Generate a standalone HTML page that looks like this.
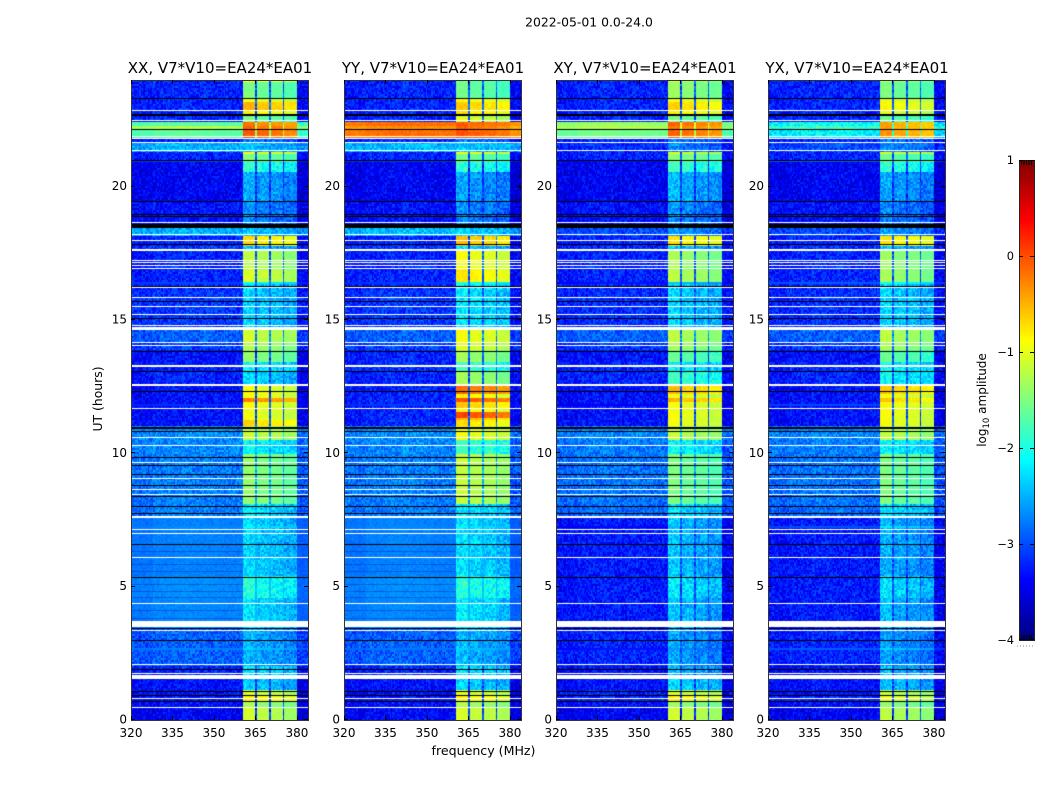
<!DOCTYPE html>
<html lang="en">
<head>
<meta charset="utf-8">
<title>2022-05-01 0.0-24.0</title>
<style>
html,body{margin:0;padding:0;background:#fff;}
#figure{position:relative;width:1050px;height:800px;overflow:hidden;background:#fff;font-family:"DejaVu Sans","Liberation Sans",sans-serif;color:#000;}
#figure canvas{position:absolute;display:block;}
#overlay{position:absolute;left:0;top:0;}
text{font-family:"DejaVu Sans","Liberation Sans",sans-serif;fill:#000;}
</style>
</head>
<body>
<div id="figure">
<canvas id="heat-0" width="177" height="640" style="left:131px;top:80px"></canvas>
<canvas id="heat-1" width="177" height="640" style="left:344px;top:80px"></canvas>
<canvas id="heat-2" width="177" height="640" style="left:556px;top:80px"></canvas>
<canvas id="heat-3" width="177" height="640" style="left:768px;top:80px"></canvas>
<canvas id="colorbar" width="15" height="480" style="left:1019px;top:160px"></canvas>
<svg id="overlay" width="1050" height="800" viewBox="0 0 1050 800" xmlns="http://www.w3.org/2000/svg">
<text x="589" y="26.5" text-anchor="middle" font-size="12.4">2022-05-01 0.0-24.0</text>
<text x="220" y="73" text-anchor="middle" font-size="15">XX, V7*V10=EA24*EA01</text>
<text x="433" y="73" text-anchor="middle" font-size="15">YY, V7*V10=EA24*EA01</text>
<text x="645" y="73" text-anchor="middle" font-size="15">XY, V7*V10=EA24*EA01</text>
<text x="857" y="73" text-anchor="middle" font-size="15">YX, V7*V10=EA24*EA01</text>
<text x="483.5" y="755" text-anchor="middle" font-size="12.6">frequency (MHz)</text>
<text transform="translate(102,399) rotate(-90)" text-anchor="middle" font-size="12.4">UT (hours)</text>
<text transform="translate(986,400) rotate(-90)" text-anchor="middle" font-size="12">log<tspan font-size="8.5" dy="3">10</tspan><tspan dy="-3"> amplitude</tspan></text>
</svg>
</div>
<script>
// Categories
const panelNames = ['xx', 'yy', 'xy', 'yx'];
const panelLeftEdges = [131, 344, 556, 768];

// Axis tick labels
const freqTicks = [320, 335, 350, 365, 380];
const utTicks = [0, 5, 10, 15, 20];
const colorTicks = [1, 0, -1, -2, -3, -4];

// UT start (hours) of each time block
const blockStartUT = [0,.45,.71,.9,1.09,1.54,2.06,3.45,4.61,5.4,7.65,8.1,10.01,10.5,10.99,11.06,11.25,11.33,11.55,11.7,11.93,12.08,12.26,12.53,13.05,13.39,13.84,14.18,14.63,16.16,16.46,16.88,17.59,17.81,18.15,18.45,18.94,19.43,20.55,20.93,21.19,21.3,21.64,21.79,22.09,22.24,22.31,22.46,22.65,22.84,23.14,23.29,23.93];

// log10 amplitude off the active subbands, per block
const backgroundXX = [-3.45,-3.35,-3.35,-3.35,-3.35,-3.25,-2.95,-2.75,-2.72,-2.78,-2.8,-2.8,-2.75,-2.72,-3.35,-3.35,-3.35,-3.35,-3.35,-3.35,-3.35,-3.35,-3.35,-3.25,-3.3,-3.35,-3.1,-2.95,-3.15,-3.25,-3.25,-3.25,-3.15,-3.25,-2.55,-3.35,-3.35,-3.45,-3.45,-3.25,-3.25,-2.55,-3.25,-1.7,-1.3,-3,-1.7,-3.25,-3.25,-3.25,-3.25,-3.25,-3.25];
const backgroundYY = [-3.4,-3.35,-3.35,-3.35,-3.35,-3.25,-2.95,-2.75,-2.72,-2.78,-2.8,-2.8,-2.75,-2.72,-3.25,-3.25,-3.25,-3.25,-3.25,-3.25,-3.25,-3.25,-3.25,-3.25,-3.2,-3.25,-3.1,-2.95,-3.15,-3.25,-3.25,-3.25,-3.15,-3.25,-2.5,-3.35,-3.35,-3.45,-3.45,-3.25,-3.25,-2.5,-3.25,-.2,-.35,-2.2,-.2,-3.25,-3.25,-3.25,-3.25,-3.25,-3.25];
const backgroundXY = [-3.45,-3.35,-3.25,-3.25,-3.35,-3.35,-3.25,-3.3,-3.3,-3.3,-2.9,-2.85,-2.8,-2.75,-3.35,-3.35,-3.35,-3.35,-3.35,-3.35,-3.35,-3.35,-3.35,-3.25,-3.25,-3.35,-3.15,-2.95,-3.2,-3.25,-3.25,-3.25,-3.2,-3.25,-3.05,-3.35,-3.35,-3.45,-3.45,-3.25,-3.25,-3.2,-3.25,-1.6,-1.3,-3,-1.4,-3.25,-3.25,-3.25,-3.25,-3.25,-3.25];
const backgroundYX = [-3.45,-3.35,-3.25,-3.35,-3.35,-3.35,-3.25,-3.3,-3.3,-3.3,-2.9,-2.85,-2.8,-2.75,-3.35,-3.35,-3.35,-3.35,-3.35,-3.35,-3.35,-3.35,-3.35,-3.25,-3.25,-3.35,-3.15,-2.95,-3.2,-3.25,-3.25,-3.25,-3.2,-3.25,-3.05,-3.35,-3.35,-3.45,-3.45,-3.25,-3.25,-3.05,-3.25,-2.2,-1.9,-3,-2.1,-3.25,-3.25,-3.25,-3.25,-3.25,-3.25];

// log10 amplitude inside the active subbands, per block
const subbandXX = [-1.2,-1.4,-.9,-1.15,-2.45,-2.3,-2.6,-2.35,-2.05,-2.4,-2.3,-1.5,-2.2,-1.2,-1.05,-.75,-1,-1.05,-1,-1,-.35,-1,-1,-2.4,-2.2,-1.5,-1.35,-1.2,-2.4,-2.35,-1.15,-1.3,-2.5,-.8,-2.5,-2.8,-2.75,-2.6,-2,-1.6,-1,-2.55,-2.85,-.15,-.2,-.7,-.3,-1.6,-.9,-.6,-1.05,-1.6,-1];
const subbandYY = [-1.15,-1.35,-.9,-1.1,-2.4,-2.3,-2.55,-2.3,-2,-2.35,-2.3,-1.25,-1.9,-1,-.95,-.8,-.6,-.05,-.9,-.7,-.1,-.9,-.25,-1.4,-1.9,-1.4,-1.1,-1,-2.3,-2.2,-.85,-1,-2.4,-.65,-2.4,-2.8,-2.75,-2.65,-2,-1.65,-1,-2.45,-2.85,-.1,-.2,-.5,-.15,-1.15,-.8,-.7,-.95,-1.65,-1.7];
const subbandXY = [-1.2,-1.45,-.9,-1.15,-2.4,-2.55,-2.65,-2.5,-2.3,-2.5,-2.35,-1.6,-2.2,-1.25,-1.1,-1,-1.05,-1,-1,-1,-.6,-1.05,-.65,-1.9,-2.2,-1.7,-1.4,-1.3,-2.4,-2.4,-1.3,-1.4,-2.5,-.85,-2.7,-2.8,-2.75,-2.55,-1.9,-1.55,-1.1,-2.8,-2.85,-.2,-.3,-.6,-.2,-1.6,-.9,-.75,-1.05,-1.45,-1.3];
const subbandYX = [-1.3,-1.5,-1.1,-1.25,-2.5,-2.55,-2.7,-2.55,-2.35,-2.6,-2.35,-1.6,-2.2,-1.25,-1.1,-1,-1.05,-1,-1,-1,-.7,-1.05,-.7,-2.2,-2.2,-1.7,-1.4,-1.3,-2.4,-2.4,-1.4,-1.45,-2.55,-.85,-2.7,-2.85,-2.8,-2.65,-2,-1.7,-1.1,-2.8,-2.85,-.45,-.5,-1,-.5,-1.7,-1.1,-.95,-1.1,-1.6,-1.4];

const backgroundByPanel = [backgroundXX, backgroundYY, backgroundXY, backgroundYX];
const subbandByPanel = [subbandXX, subbandYY, subbandXY, subbandYX];

// Active subband limits (MHz) and their relative level
const subbandStartMHz = [360.5, 365.5, 370.5, 375.5];
const subbandEndMHz = [365, 370, 375, 380];
const subbandOffset = [0.1, 0, -0.05, -0.15];

// Coarse bandpass correction, one value per 8 MHz from 320 MHz
const bandpassLog = [-0.03, 0.03, 0.05, 0.04, 0.02, 0, -0.03, -0.15];

// Texture table for pixel-to-pixel scatter (unit amplitude)
const scatterTable = [.4,-.7,.9,-.2,.1,-.9,.6,.3,-.5,1,-.3,.2,-.8,.7,-.1,.5,-.6,.8,-1,.3,0,-.4,.9,-.7,.2,.6,-.2,-.9,.4,.1,-.5,.7,-.3,1,-.8,.2,.5,-.1,-.6,.8,-.4,.3,-.9,.6,.1,-.2,.9,-.7,.4,-.5,.2,.7,-1,.3,-.1,.5,-.8,.6,-.3,.8,-.6];

// Blocks with a very smooth spectrum in XX and YY (3.5 to 7.6 UT)
const quietBlocks = [7, 8, 9];
const quietPanels = [0, 1];

// Fully flagged (white) times
const flaggedLinesUT = [.476,.825,1.76,2.09,3.35,4.38,6.1,7,7.14,8.44,8.65,9.06,9.65,10.28,10.6,11.69,12.54,12.59,13.24,13.31,14.06,14.15,14.81,15.19,15.5,15.85,16.22,16.93,17.06,17.15,17.22,18,18.19,18.67,21.34,21.67,21.81,21.88,22.48,22.86];
const flaggedBlockStartUT = [1.54, 3.49, 7.58, 14.64, 17.58];
const flaggedBlockEndUT = [1.69, 3.71, 7.65, 14.74, 17.65];

// Very low amplitude (black) times
const deadLinesUT = [.71,.92,1.9,3,5.35,6.59,7.75,7.99,8.4,8.78,9.19,9.56,9.86,10.81,12.31,13.06,13.83,15.04,15.69,16.25,17.83,18.87,18.94,19.44,20.98,22.14,23.31];
const deadBlockStartUT = [1.05, 3.41, 10.93, 18.45, 22.65];
const deadBlockEndUT = [1.09, 3.45, 10.98, 18.6, 22.72];

// Faint dips across the lower band of XX and YY
const faintLinesUT = [3.83, 4.13, 4.61, 4.84, 5.1, 5.59, 5.85, 6.34];

const FREQ_MIN = 320, FREQ_MAX = 384, UT_MIN = 0, UT_MAX = 24, COLOR_MIN = -4, COLOR_MAX = 1;
const IMG_W = 177, IMG_H = 640, CHANNELS = 128, ROWS = 320;

function xScale(mhz) { return (mhz - FREQ_MIN) / (FREQ_MAX - FREQ_MIN) * IMG_W; }
function yScale(ut) { return IMG_H - (ut - UT_MIN) / (UT_MAX - UT_MIN) * IMG_H; }
function colorPos(v) { return (COLOR_MAX - v) / (COLOR_MAX - COLOR_MIN) * 480; }

function jetChannel(t) { return Math.max(0, Math.min(1, 1.5 - Math.abs(t))); }
function jet(level) {
  const v = Math.max(0, Math.min(1, (level - COLOR_MIN) / (COLOR_MAX - COLOR_MIN)));
  const r = jetChannel(4 * v - 3);
  const g = jetChannel(4 * v - 2);
  const b = jetChannel(4 * v - 1);
  return 'rgb(' + Math.round(r * 255) + ',' + Math.round(g * 255) + ',' + Math.round(b * 255) + ')';
}

function blockAt(ut) {
  let k = 0;
  for (let i = 0; i < blockStartUT.length; i++) { if (blockStartUT[i] <= ut) k = i; }
  return k;
}

function subbandAt(mhz) {
  for (let i = 0; i < subbandStartMHz.length; i++) {
    if (mhz >= subbandStartMHz[i] && mhz < subbandEndMHz[i]) return i;
  }
  return -1;
}

function drawSpan(ctx, startUT, endUT, color) {
  const top = Math.round(yScale(endUT));
  const bottom = Math.round(yScale(startUT));
  ctx.fillStyle = color;
  ctx.fillRect(0, top, IMG_W, Math.max(1, bottom - top));
}

function drawPanel(p) {
  const ctx = document.getElementById('heat-' + p).getContext('2d');
  const bg = backgroundByPanel[p];
  const sb = subbandByPanel[p];
  const rowHours = (UT_MAX - UT_MIN) / ROWS;
  const chanMHz = (FREQ_MAX - FREQ_MIN) / CHANNELS;
  for (let r = 0; r < ROWS; r++) {
    const ut = UT_MIN + (r + 0.5) * rowHours;
    const k = blockAt(ut);
    const quiet = quietBlocks.indexOf(k) >= 0 && quietPanels.indexOf(p) >= 0;
    const top = Math.round(yScale(UT_MIN + (r + 1) * rowHours));
    const bottom = Math.round(yScale(UT_MIN + r * rowHours));
    for (let c = 0; c < CHANNELS; c++) {
      const mhz = FREQ_MIN + (c + 0.5) * chanMHz;
      const s = subbandAt(mhz);
      const coarse = bandpassLog[Math.min(bandpassLog.length - 1, Math.floor((mhz - FREQ_MIN) / 8))];
      let level;
      if (s >= 0) {
        level = Math.max(sb[k] + subbandOffset[s], bg[k]);
      } else if (mhz > subbandStartMHz[0] && mhz < subbandEndMHz[3]) {
        level = Math.min(sb[k], bg[k] + 0.3);
      } else {
        level = bg[k] + coarse;
      }
      const scatter = scatterTable[(c * 17 + r * r * 5 + c * r * 3 + p * 23) % scatterTable.length];
      const amp = quiet && s < 0 ? 0.08 : (level > -1.8 ? 0.08 : 0.28);
      level += scatter * amp;
      const left = Math.round(xScale(FREQ_MIN + c * chanMHz));
      const right = Math.round(xScale(FREQ_MIN + (c + 1) * chanMHz));
      ctx.fillStyle = jet(level);
      ctx.fillRect(left, top, right - left, bottom - top);
    }
  }
  if (quietPanels.indexOf(p) >= 0) {
    ctx.fillStyle = 'rgba(0,20,170,0.35)';
    faintLinesUT.forEach(function (ut) {
      ctx.fillRect(0, Math.round(yScale(ut)), xScale(subbandStartMHz[0]), 1);
    });
  }
  deadLinesUT.forEach(function (ut) { drawSpan(ctx, ut - 0.018, ut + 0.018, '#000'); });
  deadBlockStartUT.forEach(function (u, i) { drawSpan(ctx, u, deadBlockEndUT[i], '#000'); });
  flaggedLinesUT.forEach(function (ut) { drawSpan(ctx, ut - 0.018, ut + 0.018, '#fff'); });
  flaggedBlockStartUT.forEach(function (u, i) { drawSpan(ctx, u, flaggedBlockEndUT[i], '#fff'); });
}

function drawColorbar() {
  const ctx = document.getElementById('colorbar').getContext('2d');
  for (let y = 0; y < 480; y++) {
    ctx.fillStyle = jet(COLOR_MAX - (y + 0.5) / 480 * (COLOR_MAX - COLOR_MIN));
    ctx.fillRect(0, y, 15, 1);
  }
}

const svgNS = 'http://www.w3.org/2000/svg';
const overlay = document.getElementById('overlay');

function svgLine(x1, y1, x2, y2, color, width) {
  const el = document.createElementNS(svgNS, 'line');
  el.setAttribute('x1', x1);
  el.setAttribute('y1', y1);
  el.setAttribute('x2', x2);
  el.setAttribute('y2', y2);
  el.setAttribute('stroke', color);
  el.setAttribute('stroke-width', width);
  overlay.appendChild(el);
  return el;
}

function svgText(x, y, str, anchor, size) {
  const el = document.createElementNS(svgNS, 'text');
  el.setAttribute('x', x);
  el.setAttribute('y', y);
  el.setAttribute('text-anchor', anchor);
  el.setAttribute('font-size', size);
  el.textContent = str;
  overlay.appendChild(el);
  return el;
}

function drawAxes(p) {
  const x0 = panelLeftEdges[p], y0 = 80;
  const frame = document.createElementNS(svgNS, 'rect');
  frame.setAttribute('x', x0 + 0.5);
  frame.setAttribute('y', y0 + 0.5);
  frame.setAttribute('width', IMG_W);
  frame.setAttribute('height', IMG_H);
  frame.setAttribute('fill', 'none');
  frame.setAttribute('stroke', '#333');
  frame.setAttribute('stroke-width', '1');
  
  
  overlay.appendChild(frame);
  freqTicks.forEach(function (f) {
    const x = Math.round(x0 + xScale(f)) + 0.5;
    const bottomTick = svgLine(x, y0 + IMG_H, x, y0 + IMG_H - 4, '#000', 1);
    
    
    const topTick = svgLine(x, y0, x, y0 + 4, '#000', 1);
    
    
    const label = svgText(x0 + xScale(f), 737, String(f), 'middle', 12);
    
    
  });
  utTicks.forEach(function (u) {
    const y = Math.round(y0 + yScale(u)) - 0.5;
    const leftTick = svgLine(x0, y, x0 + 4, y, '#000', 1);
    
    
    const rightTick = svgLine(x0 + IMG_W, y, x0 + IMG_W - 4, y, '#000', 1);
    
    
    const label = svgText(x0 - 4, y0 + yScale(u) + 3.5, String(u), 'end', 12);
    
    
  });
}

function drawColorbarAxis() {
  const x0 = 1019, y0 = 160, w = 15, h = 480;
  const outer = document.createElementNS(svgNS, 'rect');
  outer.setAttribute('x', x0 + 0.5);
  outer.setAttribute('y', y0 + 0.5);
  outer.setAttribute('width', w);
  outer.setAttribute('height', h);
  outer.setAttribute('fill', 'none');
  outer.setAttribute('stroke', '#222');
  outer.setAttribute('stroke-width', '1');
  
  
  overlay.appendChild(outer);
  colorTicks.forEach(function (v) {
    const y = Math.min(y0 + h - 0.5, Math.round(y0 + colorPos(v)) + 0.5);
    const leftTick = svgLine(x0, y, x0 + 4, y, '#000', 1);
    
    
    const rightTick = svgLine(x0 + w, y, x0 + w - 4, y, '#000', 1);
    
    
    const str = v < 0 ? '\u2212' + Math.abs(v) : String(v);
    const label = svgText(x0 - 5, y0 + colorPos(v) + 4, str, 'end', 11.4);
    
    
  });
  for (let i = 1; i <= 5; i++) {
    const xm = x0 + i * 2.5;
    const upper = svgLine(xm, y0, xm, y0 + 5, '#000', 1);
    
    
    const lower = svgLine(xm, y0 + h, xm, y0 + h - 5, '#000', 1);
    
    
  }
  const dots = svgLine(1017, 646, 1035, 646, '#888', 1);
  dots.setAttribute('stroke-dasharray', '1 2');
  
  
}

panelNames.forEach(function (name, p) {
  drawPanel(p);
  drawAxes(p);
});
drawColorbar();
drawColorbarAxis();
</script>
</body>
</html>
